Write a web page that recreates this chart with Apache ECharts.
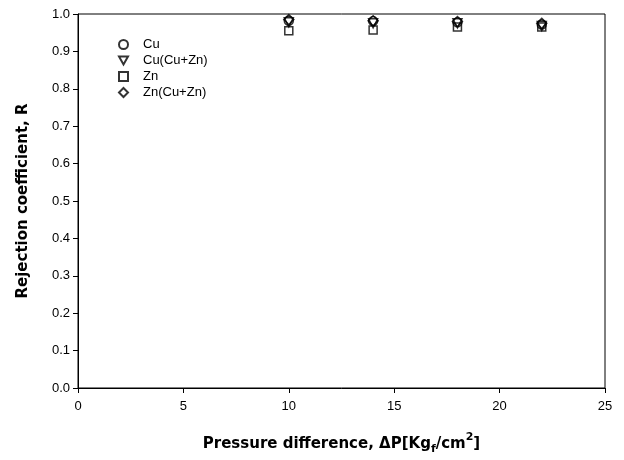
<!DOCTYPE html>
<html>
<head>
<meta charset="utf-8">
<script src="https://cdn.jsdelivr.net/npm/echarts@6/dist/echarts.min.js"></script>
<style>
  html, body { margin: 0; padding: 0; background: #fff; }
  #chart { width: 624px; height: 460px; }
</style>
</head>
<body>
<div id="chart"></div>
<script>
// Pressure difference (Kgf/cm2) and rejection coefficient for each metal
const pressure = [10, 14, 18, 22];
const cu = [0.982, 0.981, 0.978, 0.972];
const cuMix = [0.978, 0.975, 0.975, 0.968];
const zn = [0.955, 0.957, 0.965, 0.965];
const znMix = [0.985, 0.982, 0.980, 0.975];

const seriesNames = ['Cu', 'Cu(Cu+Zn)', 'Zn', 'Zn(Cu+Zn)'];
const seriesValues = [cu, cuMix, zn, znMix];
const symbols = ['circle', 'path://M0,0 L10,0 L5,9 Z', 'rect', 'diamond'];
const symbolSizes = [9, 9, 8, 10];

const font = '"Liberation Sans", Arial, sans-serif';
const titleFont = '"DejaVu Sans", "Liberation Sans", sans-serif';

const chart = echarts.init(document.getElementById('chart'));
chart.setOption({
  animation: false,
  backgroundColor: '#fff',
  grid: {
    left: 78, right: 19, top: 14, bottom: 71,
    show: true, borderColor: '#000', borderWidth: 1
  },
  legend: {
    orient: 'vertical',
    left: 113, top: 33,
    itemGap: 3,
    itemWidth: 9, itemHeight: 9,
    textStyle: { fontFamily: font, fontSize: 13, color: '#000', padding: [0, 0, 0, 10] },
    data: seriesNames
  },
  xAxis: {
    type: 'value', min: 0, max: 25, interval: 5,
    axisLine: { lineStyle: { color: '#000', width: 1 } },
    axisTick: { inside: false, length: 5, lineStyle: { color: '#000' } },
    axisLabel: { fontFamily: font, fontSize: 13, color: '#000', margin: 12 },
    splitLine: { show: false },
    name: '{b|Pressure difference, ΔP[Kg}{sub|f}{b|/cm}{sup|2}{b|]}',
    nameLocation: 'middle', nameGap: 44,
    nameTextStyle: {
      rich: {
        b: { fontFamily: titleFont, fontSize: 15, fontWeight: 'bold', color: '#000', verticalAlign: 'bottom', lineHeight: 20 },
        sub: { fontFamily: titleFont, fontSize: 11, fontWeight: 'bold', color: '#000', verticalAlign: 'bottom', lineHeight: 14, padding: [0, 0, -3, 0] },
        sup: { fontFamily: titleFont, fontSize: 11, fontWeight: 'bold', color: '#000', verticalAlign: 'top', lineHeight: 14, padding: [0, 0, 8, 0] }
      }
    }
  },
  yAxis: {
    type: 'value', min: 0, max: 1, interval: 0.1,
    axisLine: { show: true, lineStyle: { color: '#000', width: 1 } },
    axisTick: { show: true, inside: false, length: 5, lineStyle: { color: '#000' } },
    axisLabel: {
      fontFamily: font, fontSize: 13, color: '#000', margin: 8,
      formatter: v => v.toFixed(1)
    },
    splitLine: { show: false },
    name: 'Rejection coefficient, R',
    nameLocation: 'middle', nameGap: 47, nameRotate: 90,
    nameTextStyle: { fontFamily: titleFont, fontSize: 15, fontWeight: 'bold', color: '#000' }
  },
  series: seriesNames.map((name, i) => ({
    name: name,
    type: 'scatter',
    symbol: symbols[i],
    symbolSize: symbolSizes[i],
    itemStyle: { color: 'rgba(255,255,255,0)', borderColor: '#000', borderWidth: 1.5 },
    data: pressure.map((p, j) => [p, seriesValues[i][j]])
  }))
});
</script>
</body>
</html>
